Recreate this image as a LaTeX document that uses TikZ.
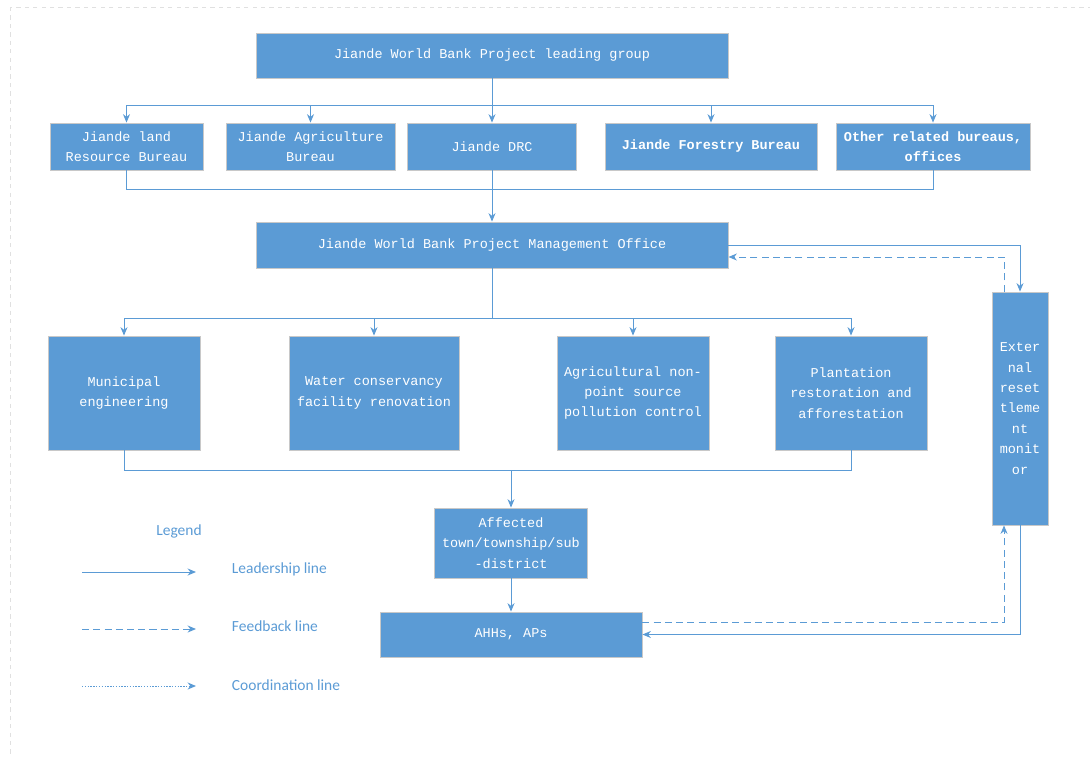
\documentclass[tikz,border=0pt]{standalone}
\usepackage{fontspec}
\usepackage{tikz}
\usetikzlibrary{arrows.meta, positioning, shadows}
\newfontfamily\boxfont{Liberation Mono}
\newfontfamily\legendfont{Carlito}
\definecolor{officeblue}{HTML}{5B9BD5}
\definecolor{boxedge}{HTML}{C8C8C8}
\tikzset{%
	orgbox/.style={
		rectangle,
		fill=officeblue,
		draw=boxedge,
		line width=0.6pt,
		text=white,
		align=center,
		inner sep=0pt,
		font=\boxfont\fontsize{9.6}{14.5}\selectfont,
		drop shadow={opacity=0.12, shadow xshift=0.6pt, shadow yshift=-0.6pt}
	},
	leadline/.style={
		draw=officeblue,
		line width=0.7pt,
		-{Stealth[length=6pt,width=5pt]}
	},
	feedline/.style={
		leadline,
		dash pattern=on 5pt off 3pt
	},
	coordline/.style={
		leadline,
		dash pattern=on 1pt off 1pt
	},
	legendtext/.style={
		text=officeblue,
		font=\legendfont\fontsize{11}{13}\selectfont
	},
}
\begin{document}
\begin{tikzpicture}[x=0.025cm, y=-0.025cm]
	\useasboundingbox (0,0) rectangle (1090,756);
	% page frame
	\draw[black!12, dashed, line width=0.5pt] (10,7) rectangle (1100,770);
	
	% top group
	\node[orgbox, minimum width=11.8cm, minimum height=1.125cm] (lead) at (492,55.5) {Jiande World Bank Project leading group};
	
	% bureaus
	\node[orgbox, minimum width=3.825cm, minimum height=1.175cm] (land) at (126.5,146.5) {Jiande land\\Resource Bureau};
	\node[orgbox, minimum width=4.225cm, minimum height=1.175cm] (agri) at (310.5,146.5) {Jiande Agriculture\\Bureau};
	\node[orgbox, minimum width=4.225cm, minimum height=1.175cm] (drc) at (492,146.5) {Jiande DRC};
	\node[orgbox, minimum width=5.3cm, minimum height=1.175cm, font=\boxfont\bfseries\fontsize{9.6}{14.5}\selectfont] (forest) at (711,146.5) {Jiande Forestry Bureau};
	\node[orgbox, minimum width=4.85cm, minimum height=1.175cm, font=\boxfont\bfseries\fontsize{9.6}{14.5}\selectfont] (other) at (933,146.5) {Other related bureaus,\\offices};
	
	% management office
	\node[orgbox, minimum width=11.8cm, minimum height=1.15cm] (pmo) at (492,245) {Jiande World Bank Project Management Office};
	
	% projects
	\node[orgbox, minimum width=3.8cm, minimum height=2.85cm] (muni) at (124,393) {Municipal\\engineering};
	\node[orgbox, minimum width=4.25cm, minimum height=2.85cm] (water) at (374,393) {Water conservancy\\facility renovation};
	\node[orgbox, minimum width=3.8cm, minimum height=2.85cm] (nps) at (633,393) {Agricultural non-\\point source\\pollution control};
	\node[orgbox, minimum width=3.8cm, minimum height=2.85cm] (plant) at (851,393) {Plantation\\restoration and\\afforestation};
	
	% affected levels
	\node[orgbox, minimum width=3.825cm, minimum height=1.75cm] (affected) at (511,543) {Affected\\town/township/sub\\-district};
	\node[orgbox, minimum width=6.55cm, minimum height=1.125cm] (ahh) at (511,634.5) {AHHs, APs};
	
	% external monitor
	\node[orgbox, minimum width=1.4cm, minimum height=5.825cm] (ext) at (1020,408.5) {Exter\\nal\\reset\\tleme\\nt\\monit\\or};
	
	% bus points
	\coordinate (topbus) at (492,105);
	\coordinate (midbus) at (492,189);
	\coordinate (projbus) at (492,318);
	\coordinate (lowbus) at (511,470);
	
	% leading group to bureaus
	\draw[leadline] (lead.south) |- (land.north |- topbus) -- (land.north);
	\draw[leadline] (lead.south) |- (agri.north |- topbus) -- (agri.north);
	\draw[leadline] (lead.south) -- (drc.north);
	\draw[leadline] (lead.south) |- (forest.north |- topbus) -- (forest.north);
	\draw[leadline] (lead.south) |- (other.north |- topbus) -- (other.north);
	
	% bureaus to office
	\draw[leadline, -] (land.south) |- (other.south |- midbus) -- (other.south);
	\draw[leadline] (drc.south) -- (pmo.north);
	
	% office to projects
	\draw[leadline] (pmo.south) |- (muni.north |- projbus) -- (muni.north);
	\draw[leadline] (pmo.south) |- (water.north |- projbus) -- (water.north);
	\draw[leadline] (pmo.south) |- (nps.north |- projbus) -- (nps.north);
	\draw[leadline] (pmo.south) |- (plant.north |- projbus) -- (plant.north);
	
	% projects to affected
	\draw[leadline, -] (muni.south) |- (plant.south |- lowbus) -- (plant.south);
	\draw[leadline] (affected.north |- lowbus) -- (affected.north);
	\draw[leadline] (affected.south) -- (ahh.north);
	
	% monitor loop
	\draw[leadline] (pmo.east) -| (ext.north);
	\draw[feedline] ([xshift=-0.4cm]ext.north) |- ([yshift=-0.3cm]pmo.east);
	\draw[feedline] ([yshift=0.3cm]ahh.east) -| ([xshift=-0.4cm]ext.south);
	\draw[leadline] (ext.south) |- (ahh.east);
	
	% legend
	\node[legendtext] (legend) at (179,531) {Legend};
	\coordinate (l1a) at (82,572);
	\coordinate (l1b) at (196,572);
	\coordinate (l2a) at (82,629);
	\coordinate (l2b) at (196,629);
	\coordinate (l3a) at (82,686);
	\coordinate (l3b) at (196,686);
	\draw[leadline] (l1a) -- (l1b);
	\draw[feedline] (l2a) -- (l2b);
	\draw[coordline] (l3a) -- (l3b);
	\node[legendtext, anchor=west] (leadlab) at (227,569) {Leadership line};
	\node[legendtext, anchor=west] (feedlab) at (227,626) {Feedback line};
	\node[legendtext, anchor=west] (coordlab) at (227,685) {Coordination line};
\end{tikzpicture}
\end{document}
